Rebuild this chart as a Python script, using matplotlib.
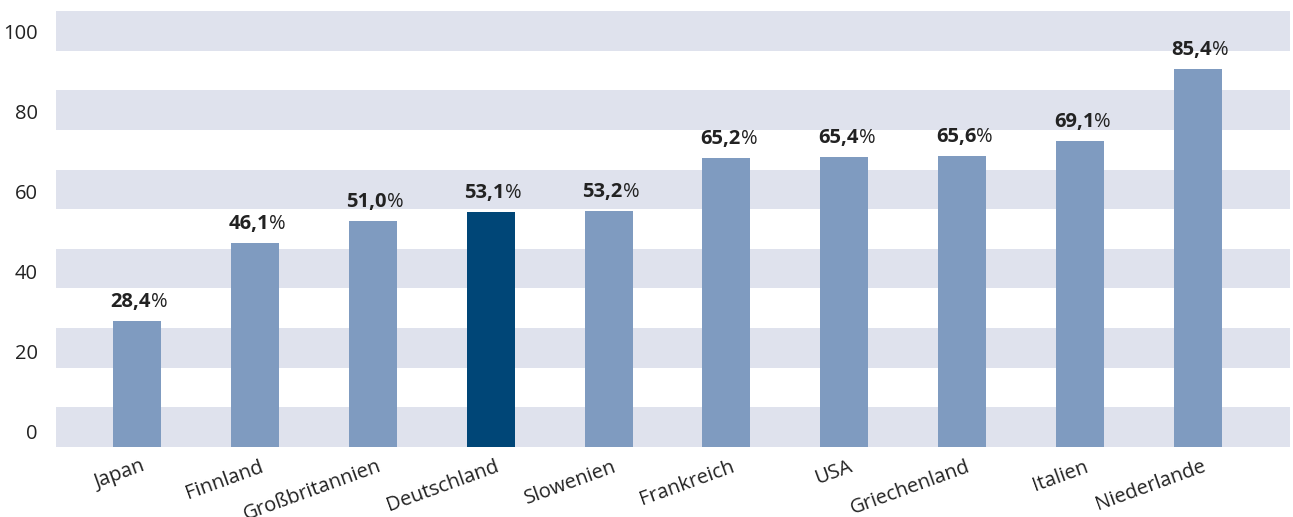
import matplotlib
matplotlib.use("Agg")
import matplotlib.pyplot as plt
from matplotlib.transforms import ScaledTranslation

countries = ["Japan", "Finnland", "Großbritannien", "Deutschland", "Slowenien",
             "Frankreich", "USA", "Griechenland", "Italien", "Niederlande"]
values = [28.4, 46.1, 51.0, 53.1, 53.2, 65.2, 65.4, 65.6, 69.1, 85.4]
highlight = "Deutschland"
ytick_labels = ["0", "20", "40", "60", "80", "100"]

plt.rcParams['font.family'] = ['Open Sans', 'DejaVu Sans']

W, H = 1293, 517
fig = plt.figure(figsize=(W / 100, H / 100), dpi=100)
ax = fig.add_axes([56 / W, 1 - 447 / H, (1290 - 56) / W, (447 - 11) / H])

ytop = 98.4
ax.set_ylim(0, ytop)
ax.set_xlim(-0.687, 9.78)

# horizontal bands (11 stripes, grey on even ones)
nb = 11
bh = ytop / nb
for k in range(0, nb, 2):
    ax.axhspan(k * bh, (k + 1) * bh, color="#dfe2ed", lw=0, zorder=0)

light = "#7f9bc0"
dark = "#004677"
colors = [dark if c == highlight else light for c in countries]
x = list(range(len(countries)))
ax.bar(x, values, width=0.407, color=colors, zorder=2)

fs = 14.5
for i, v in enumerate(values):
    num = f"{v:.1f}".replace(".", ",")
    t = ax.annotate(num, xy=(i, v), xytext=(-6, 9), textcoords="offset pixels",
                    ha="center", va="bottom", fontsize=fs, fontweight="bold",
                    color="#222222", zorder=3)
    ax.annotate("%", xy=(1, 0), xycoords=t, ha="left", va="bottom",
                fontsize=fs, color="#222222", zorder=3)

# y tick labels positioned like the reference
ypos = [3.4 + 18.06 * k for k in range(len(ytick_labels))]
ax.set_yticks(ypos)
ax.set_yticklabels(ytick_labels, fontsize=fs, color="#222222")
ax.tick_params(axis="y", length=0, pad=13)

ax.set_xticks(x)
ax.set_xticklabels(countries, rotation=20, ha="right", rotation_mode="anchor",
                   fontsize=fs, color="#222222")
ax.tick_params(axis="x", length=0, pad=7)
shift = ScaledTranslation(4 / 100, 0, fig.dpi_scale_trans)
for lbl in ax.get_xticklabels():
    lbl.set_transform(lbl.get_transform() + shift)

for s in ax.spines.values():
    s.set_visible(False)

fig.savefig("out.png", dpi=100)
